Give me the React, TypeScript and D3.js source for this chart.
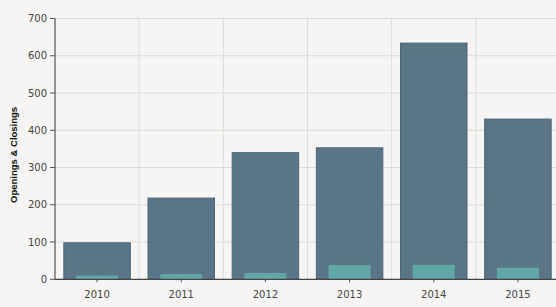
import React from "react";
import * as d3 from "d3";

const years = ["2010", "2011", "2012", "2013", "2014", "2015"];
const openings = [98, 218, 340, 353, 634, 430];
const closings = [10, 14, 17, 38, 39, 31];
const yTicks = [0, 100, 200, 300, 400, 500, 600, 700];

const W = 556;
const H = 307;
const M = { left: 55, right: -4, top: 18.5, bottom: 27.7 };

export default function App() {
  const x = d3
    .scaleBand<string>()
    .domain(years)
    .range([M.left, W - M.right])
    .paddingInner(0)
    .paddingOuter(0);
  const y = d3.scaleLinear().domain([0, 700]).range([H - M.bottom, M.top]);
  const bw = x.bandwidth();
  const outerW = bw * 0.79;
  const innerW = bw * 0.5;
  const font = "'DejaVu Sans', Verdana, sans-serif";
  const y0 = y(0);

  return (
    <svg
      width={W}
      height={H}
      style={{ position: "absolute", left: 0, top: 0, display: "block" }}
    >
      <rect x={0} y={0} width={W} height={H} fill="#f6f5f3" />
      {yTicks.map((t) => (
        <line
          key={"h" + t}
          x1={M.left}
          x2={W}
          y1={y(t)}
          y2={y(t)}
          stroke="#dcdbd9"
          strokeWidth={1}
        />
      ))}
      {years.map((yr) => (
        <line
          key={"v" + yr}
          x1={(x(yr) as number) + bw}
          x2={(x(yr) as number) + bw}
          y1={M.top}
          y2={y0}
          stroke="#dcdbd9"
          strokeWidth={1}
        />
      ))}
      {years.map((yr, i) => {
        const cx = (x(yr) as number) + bw / 2;
        return (
          <g key={"b" + yr}>
            <rect
              x={cx - outerW / 2}
              y={y(openings[i])}
              width={outerW}
              height={y0 - y(openings[i])}
              fill="#5a7588"
              stroke="#4d6678"
              strokeWidth={1}
            />
            <rect
              x={cx - innerW / 2}
              y={y(closings[i])}
              width={innerW}
              height={y0 - y(closings[i])}
              fill="#60a7a5"
            />
          </g>
        );
      })}
      <line x1={M.left} x2={M.left} y1={M.top} y2={y0} stroke="#555" strokeWidth={1.2} />
      {yTicks.map((t) => (
        <g key={"yt" + t}>
          <line x1={M.left - 5} x2={M.left} y1={y(t)} y2={y(t)} stroke="#555" strokeWidth={1} />
          <text
            x={M.left - 8}
            y={y(t)}
            dy="0.35em"
            textAnchor="end"
            fontFamily={font}
            fontSize={10}
            fill="#444"
          >
            {t}
          </text>
        </g>
      ))}
      <line x1={M.left} x2={W} y1={y0} y2={y0} stroke="#444" strokeWidth={1.2} />
      {years.map((yr) => {
        const cx = (x(yr) as number) + bw / 2;
        return (
          <g key={"xt" + yr}>
            <line x1={cx} x2={cx} y1={y0} y2={y0 + 3} stroke="#555" strokeWidth={1} />
            <text
              x={cx}
              y={y0 + 15}
              dy="0.35em"
              textAnchor="middle"
              fontFamily={font}
              fontSize={10}
              fill="#444"
            >
              {yr}
            </text>
          </g>
        );
      })}
      <text
        transform={`translate(17,${(M.top + y0) / 2 + 6}) rotate(-90)`}
        textAnchor="middle"
        fontFamily="'Liberation Sans', Arial, sans-serif"
        fontWeight="bold"
        fontSize={9.5}
        fill="#111"
      >
        Openings &amp; Closings
      </text>
    </svg>
  );
}
